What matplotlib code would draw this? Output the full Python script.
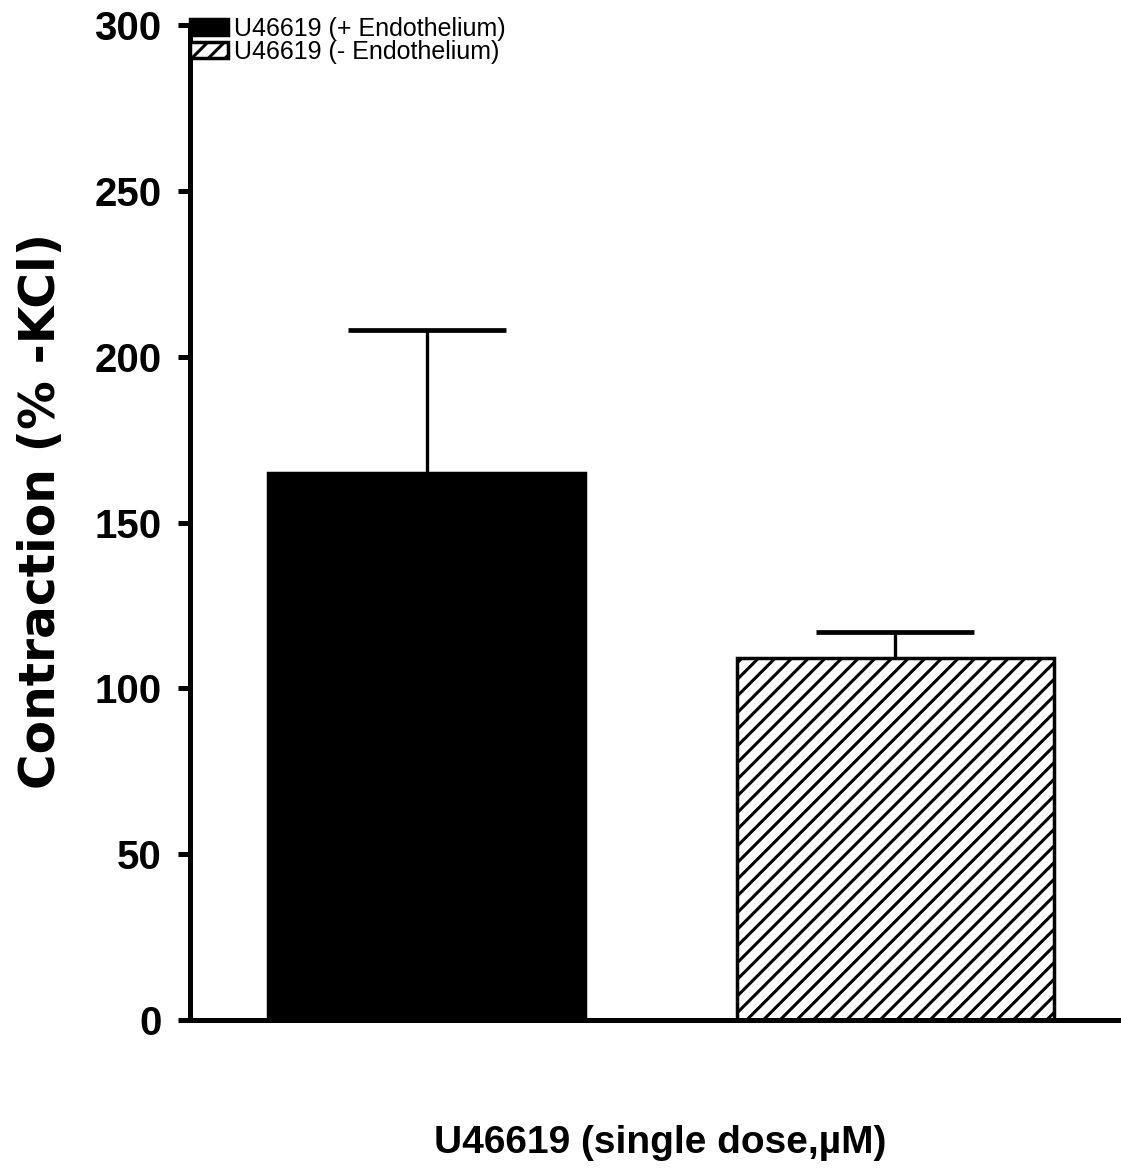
import numpy as np
import matplotlib.pyplot as plt

# data
groups = ['U46619 (+ Endothelium)', 'U46619 (- Endothelium)']
means = [165, 109]
sem = [43, 8]
hatches = ['', '//']
colors = ['black', 'white']
yticks = [0, 50, 100, 150, 200, 250, 300]

plt.rcParams['hatch.linewidth'] = 2.2
fig = plt.figure(figsize=(11.21, 11.75), dpi=100)
ax = fig.add_axes([190/1121, 155/1175, 931/1121, 995/1175])

x = np.arange(len(groups))
for i in range(len(groups)):
    ax.bar(x[i], means[i], width=0.677, color=colors[i], edgecolor='black',
           linewidth=2.5, hatch=hatches[i], label=groups[i], zorder=2)
eb = ax.errorbar(x, means, yerr=[np.zeros(len(sem)), sem], fmt='none', ecolor='black',
                 elinewidth=2.4, capsize=57, capthick=3.4, zorder=1)
eb[1][0].set_visible(False)  # no lower cap

ax.set_xlim(-0.505, 1.482)
ax.set_ylim(0, 300)
ax.set_yticks(yticks)
ax.set_xticks([])
for s in ['top', 'right']:
    ax.spines[s].set_visible(False)
ax.spines['left'].set_linewidth(3.6)
ax.spines['bottom'].set_linewidth(3.6)
ax.tick_params(axis='y', direction='out', length=8.6, width=3.6, pad=12)
for lab in ax.get_yticklabels():
    lab.set_family('Liberation Sans')
    lab.set_fontweight('bold')
    lab.set_fontsize(29)

ax.set_ylabel('Contraction (% -KCl)', fontsize=35, fontweight='bold', family='DejaVu Sans')
ax.yaxis.set_label_coords(-0.134, 0.512)
ax.set_xlabel('U46619 (single dose,\u00b5M)', fontsize=28, fontweight='bold', family='Liberation Sans')
ax.xaxis.set_label_coords(0.505, -0.106)

leg = ax.legend(loc='upper left', bbox_to_anchor=(0.0, 1.008), frameon=False,
                borderaxespad=0, borderpad=0, handlelength=1.5, handleheight=0.6,
                handletextpad=0.25, labelspacing=-0.05,
                prop={'family': 'Liberation Sans', 'size': 18})

fig.savefig('out.png', dpi=100)
